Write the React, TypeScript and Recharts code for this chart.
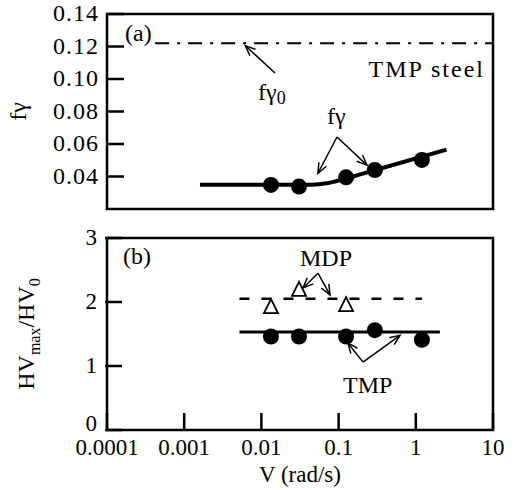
import { ComposedChart, Line, Scatter, XAxis, YAxis, ReferenceArea, ReferenceLine, ReferenceDot } from 'recharts'

const FONT = 'Liberation Serif'

// velocity axis (log)
const vTicks = [0.0001, 0.001, 0.01, 0.1, 1, 10]
const vTickLabels = ['0.0001', '0.001', '0.01', '0.1', '1', '10']

// (a) f_gamma panel
const fTicks = [0.02, 0.04, 0.06, 0.08, 0.1, 0.12, 0.14]
const fPointV = [0.0133, 0.0307, 0.125, 0.295, 1.2]
const fPointVal = [0.0348, 0.0338, 0.0395, 0.044, 0.0502]
const fCurveV = [0.0016, 0.045, 0.07, 0.12, 0.3, 2.5]
const fCurveVal = [0.035, 0.035, 0.0358, 0.0385, 0.044, 0.0565]
const f0V = [0.00042, 10]
const f0Val = [0.122, 0.122]

// (b) hardness ratio panel
const hTicks = [0, 1, 2, 3]
const tmpV = [0.0133, 0.0307, 0.125, 0.295, 1.2]
const tmpVal = [1.46, 1.46, 1.46, 1.56, 1.41]
const mdpV = [0.0133, 0.0307, 0.125]
const mdpVal = [1.92, 2.19, 1.95]
const tmpLineV = [0.0052, 2.05]
const tmpLineVal = [1.53, 1.53]
const mdpLineV = [0.0052, 1.2]
const mdpLineVal = [2.05, 2.05]

const pts = (xs: number[], ys: number[]) => xs.map((v, i) => ({ v, y: ys[i] }))

const txt = { fontFamily: FONT }

const Arrow = (p: any) => {
  const { x1, y1, x2, y2 } = p
  const a = Math.atan2(y2 - y1, x2 - x1)
  const L = 11
  const h1x = x2 - L * Math.cos(a - 0.4)
  const h1y = y2 - L * Math.sin(a - 0.4)
  const h2x = x2 - L * Math.cos(a + 0.4)
  const h2y = y2 - L * Math.sin(a + 0.4)
  return (
    <g stroke="#000" strokeWidth={1.5} fill="none">
      <line x1={x1} y1={y1} x2={x2} y2={y2} />
      <polyline points={`${h1x},${h1y} ${x2},${y2} ${h2x},${h2y}`} />
    </g>
  )
}

const note = (content: any, anchor: 'start' | 'middle' | 'end' = 'start', spacing = 0) => (p: any) => (
  <text x={p.cx} y={p.cy} textAnchor={anchor} style={txt} fontSize={24} letterSpacing={spacing} fill="#000">
    {content}
  </text>
)

const YTick = ({ x, y, payload, digits, size }: any) => (
  <g>
    <line x1={x + 8} x2={x + 25} y1={y} y2={y} stroke="#000" strokeWidth={2.5} />
    <text x={x} y={y} dy={payload.value === 0 ? 1 : 7} textAnchor="end" style={txt} fontSize={size} letterSpacing={digits ? 1 : 0} fill="#000">
      {payload.value.toFixed(digits)}
    </text>
  </g>
)

const XTick = ({ x, y, payload, index, showLabel }: any) => (
  <g>
    <line x1={x} x2={x} y1={y} y2={y - 17} stroke="#000" strokeWidth={2.5} />
    {showLabel && (
      <text x={x} y={y + 25} textAnchor="middle" style={txt} fontSize={23} fill="#000">
        {vTickLabels[index] ?? payload.value}
      </text>
    )}
  </g>
)

const Dot = (p: any) => <circle cx={p.cx} cy={p.cy} r={8} fill="#000" />
const Tri = (p: any) => (
  <polygon
    points={`${p.cx},${p.cy - 8} ${p.cx - 7},${p.cy + 6} ${p.cx + 7},${p.cy + 6}`}
    fill="#fff"
    stroke="#000"
    strokeWidth={1.8}
  />
)

const FLabel = ({ viewBox }: any) => {
  const cx = viewBox.x + 26
  const cy = viewBox.y + viewBox.height / 2
  return (
    <text x={cx} y={cy} transform={`rotate(-90 ${cx} ${cy})`} textAnchor="middle" style={txt} fontSize={24} fill="#000">
      fγ
    </text>
  )
}

const HLabel = ({ viewBox }: any) => {
  const cx = viewBox.x + 34
  const cy = viewBox.y + viewBox.height / 2
  return (
    <text x={cx} y={cy} transform={`rotate(-90 ${cx} ${cy})`} textAnchor="middle" style={txt} fontSize={24} fill="#000">
      HV<tspan dy={6} fontSize={16}>max</tspan>
      <tspan dy={-6}>/HV</tspan>
      <tspan dy={6} fontSize={16}>0</tspan>
    </text>
  )
}

export default function App() {
  return (
    <div style={{ position: 'absolute', left: 0, top: 0, width: 515, height: 490, background: '#fff', fontFamily: FONT }}>
      <div style={{ position: 'absolute', left: 0, top: 0 }}>
        <ComposedChart width={515} height={215} margin={{ top: 14, right: 22, bottom: 6, left: 0 }}>
          <XAxis
            type="number"
            dataKey="v"
            scale="log"
            domain={[0.0001, 10]}
            ticks={vTicks}
            allowDataOverflow
            height={0}
            tickSize={0}
            tickMargin={0}
            axisLine={false}
            tickLine={false}
            tick={<XTick showLabel={false} />}
          />
          <YAxis
            type="number"
            domain={[0.02, 0.14]}
            ticks={fTicks}
            width={107}
            tickSize={0}
            tickMargin={8}
            axisLine={false}
            tickLine={false}
            tick={<YTick digits={2} size={24} />}
            label={<FLabel />}
          />
          <ReferenceArea x1={0.0001} x2={10} y1={0.02} y2={0.14} fill="none" stroke="#000" strokeWidth={2.5} fillOpacity={0} />
          <Line data={pts(f0V, f0Val)} dataKey="y" stroke="#000" strokeWidth={2} strokeDasharray="14 8 3 8" dot={false} isAnimationActive={false} />
          <Line data={pts(fCurveV, fCurveVal)} dataKey="y" type="monotone" stroke="#000" strokeWidth={4} dot={false} isAnimationActive={false} />
          <Scatter data={pts(fPointV, fPointVal)} dataKey="y" shape={Dot} isAnimationActive={false} />
          <ReferenceLine segment={[{ x: 0.015, y: 0.1037 }, { x: 0.0062, y: 0.1205 }]} shape={Arrow} />
          <ReferenceLine segment={[{ x: 0.0953, y: 0.0643 }, { x: 0.054, y: 0.042 }]} shape={Arrow} />
          <ReferenceLine segment={[{ x: 0.0953, y: 0.0643 }, { x: 0.233, y: 0.047 }]} shape={Arrow} />
          <ReferenceDot x={0.000171} y={0.1234} shape={note('(a)')} />
          <ReferenceDot x={7.87} y={0.1012} shape={note('TMP steel', 'end', 2)} />
          <ReferenceDot x={0.00904} y={0.0871} shape={note(<>fγ<tspan dy={4} fontSize={18}>0</tspan></>)} />
          <ReferenceDot x={0.0708} y={0.0723} shape={note('fγ')} />
        </ComposedChart>
      </div>
      <div style={{ position: 'absolute', left: 0, top: 215 }}>
        <ComposedChart width={515} height={275} margin={{ top: 23, right: 22, bottom: 0, left: 0 }}>
          <XAxis
            type="number"
            dataKey="v"
            scale="log"
            domain={[0.0001, 10]}
            ticks={vTicks}
            allowDataOverflow
            height={60}
            tickSize={0}
            tickMargin={0}
            axisLine={false}
            tickLine={false}
            tick={<XTick showLabel />}
            label={{ value: 'V (rad/s)', position: 'insideBottom', offset: 8, style: txt, fontSize: 23, fill: '#000' }}
          />
          <YAxis
            type="number"
            domain={[0, 3]}
            ticks={hTicks}
            width={107}
            tickSize={0}
            tickMargin={10}
            axisLine={false}
            tickLine={false}
            tick={<YTick digits={0} size={23} />}
            label={<HLabel />}
          />
          <ReferenceArea x1={0.0001} x2={10} y1={0} y2={3} fill="none" stroke="#000" strokeWidth={2.5} fillOpacity={0} />
          <Line data={pts(mdpLineV, mdpLineVal)} dataKey="y" stroke="#000" strokeWidth={2.5} strokeDasharray="10 12" dot={false} isAnimationActive={false} />
          <Line data={pts(tmpLineV, tmpLineVal)} dataKey="y" stroke="#000" strokeWidth={3} dot={false} isAnimationActive={false} />
          <Scatter data={pts(mdpV, mdpVal)} dataKey="y" shape={Tri} isAnimationActive={false} />
          <Scatter data={pts(tmpV, tmpVal)} dataKey="y" shape={Dot} isAnimationActive={false} />
          <ReferenceLine segment={[{ x: 0.054, y: 2.45 }, { x: 0.0346, y: 2.22 }]} shape={Arrow} />
          <ReferenceLine segment={[{ x: 0.054, y: 2.45 }, { x: 0.0775, y: 2.11 }]} shape={Arrow} />
          <ReferenceLine segment={[{ x: 0.207, y: 1.06 }, { x: 0.132, y: 1.36 }]} shape={Arrow} />
          <ReferenceLine segment={[{ x: 0.207, y: 1.06 }, { x: 0.624, y: 1.48 }]} shape={Arrow} />
          <ReferenceDot x={0.000161} y={2.59} shape={note('(b)')} />
          <ReferenceDot x={0.0316} y={2.56} shape={note('MDP')} />
          <ReferenceDot x={0.114} y={0.58} shape={note('TMP')} />
        </ComposedChart>
      </div>
    </div>
  )
}
